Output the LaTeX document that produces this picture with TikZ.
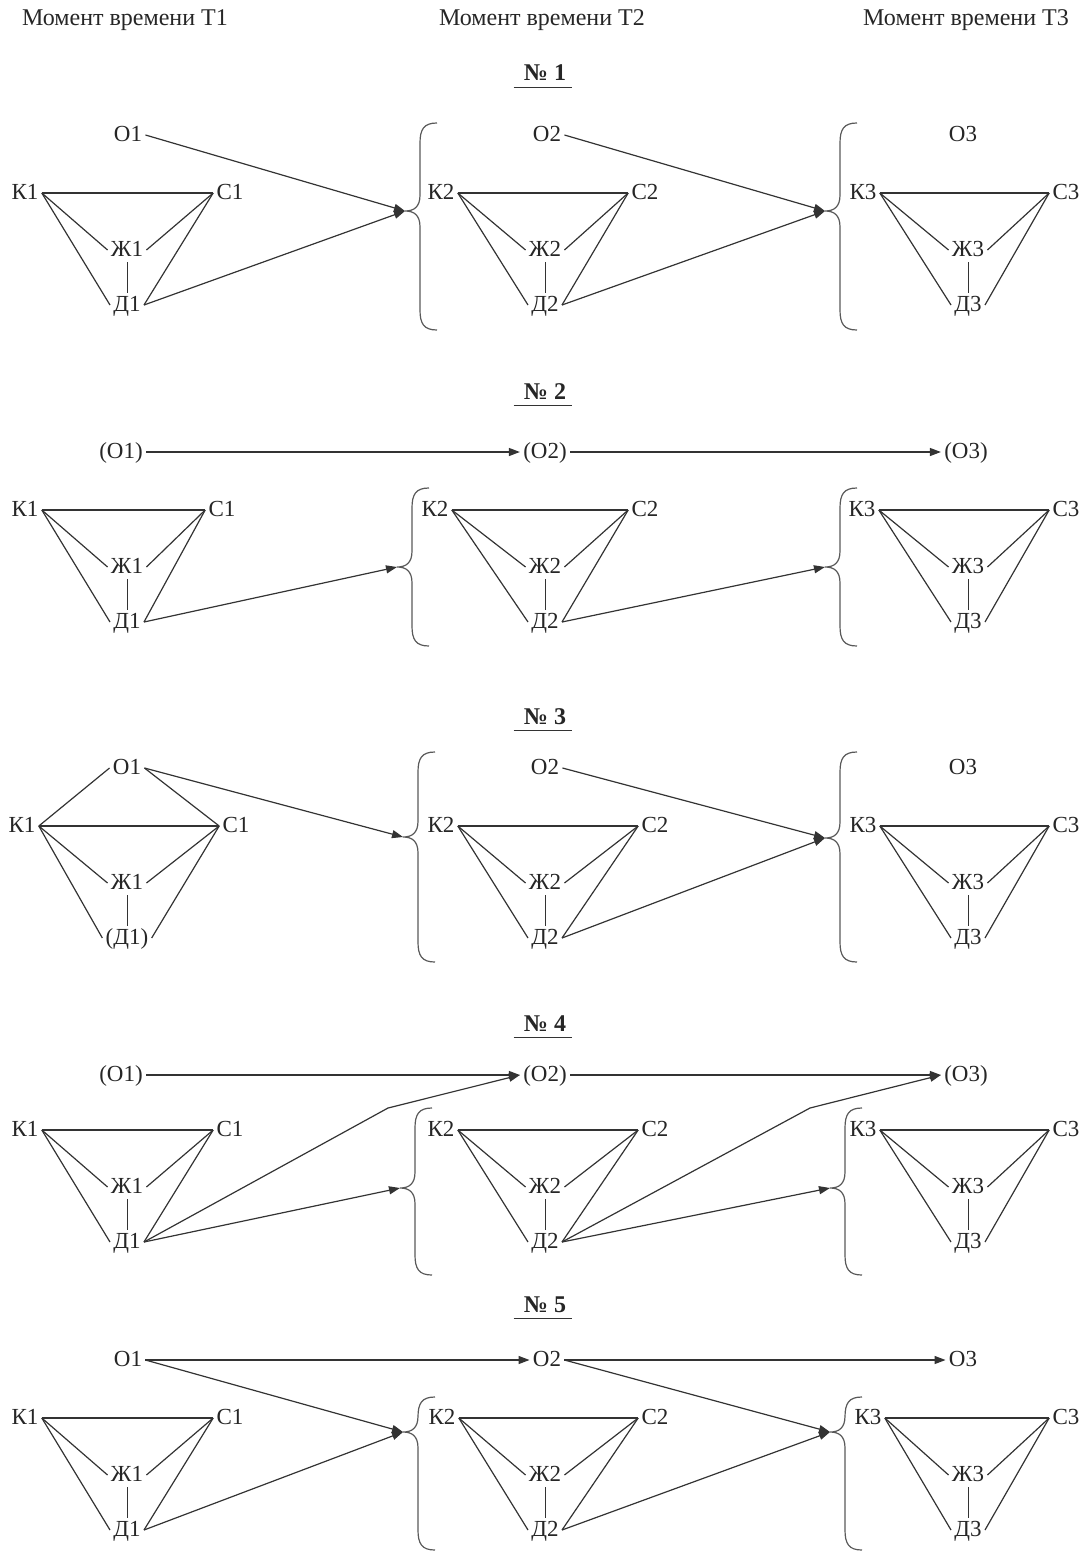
\documentclass[tikz,border=0pt]{standalone}
\usepackage{fontspec}
\setmainfont{Liberation Serif}
\usetikzlibrary{arrows.meta}
\tikzset{
  lbl/.style={font=\fontsize{11.5}{13}\selectfont, inner sep=1.5pt, text height=7.8pt, text depth=1pt, text=black!85},
  hdr/.style={font=\fontsize{12}{14}\selectfont, inner sep=1pt, text=black!85},
  ttl/.style={font=\fontsize{12}{14}\selectfont\bfseries, inner sep=1pt, text height=8pt, text depth=2pt, text=black!85},
  ln/.style={draw=black!80, line width=0.6pt},
  br/.style={draw=black!65, line width=0.6pt},
  arr/.style={ln, -{Triangle[length=5.5pt,width=4pt]}},
}
\newcommand{\triad}[7]{%
  \node[lbl] (#1K) at (#3,#6) {К#2};
  \node[lbl] (#1C) at (#4,#6) {С#2};
  \node[lbl] (#1Z) at (#5,#6+57) {Ж#2};
  \node[lbl] (#1D) at (#5,#6+112) {#7};
  \draw[ln] (#1K.east) -- (#1C.west);
  \draw[ln] (#1K.east) -- (#1Z.west);
  \draw[ln] (#1K.east) -- (#1D.west);
  \draw[ln] (#1C.west) -- (#1Z.east);
  \draw[ln] (#1C.west) -- (#1D.east);
  \draw[ln, line width=0.5pt] (#1Z.south) -- (#1D.north);
}
\newcommand{\cbrace}[5]{%
  \coordinate (#1) at (#2-15,#4);
  \draw[br] (#2+17,#3) .. controls (#2+4,#3) and (#2,#3+6) .. (#2,#3+20)
    -- (#2,#4-16) .. controls (#2,#4-4) and (#2-6,#4) .. (#1)
    .. controls (#2-6,#4) and (#2,#4+4) .. (#2,#4+16)
    -- (#2,#5-20) .. controls (#2,#5-6) and (#2+4,#5) .. (#2+17,#5);
}
\newcommand{\ttlnode}[4]{%
  \node[ttl] (#1) at (#2,#3) {#4};
  \draw[ln] ([xshift=-4pt]#1.south west) -- ([xshift=2pt]#1.south east);
}
\begin{document}
\begin{tikzpicture}[x=0.5pt,y=-0.5pt]
\useasboundingbox (0,0) rectangle (1090,1552);
% headers
\node[hdr] (h1) at (125,20) {Момент времени Т1};
\node[hdr] (h2) at (542,20) {Момент времени Т2};
\node[hdr] (h3) at (966,20) {Момент времени Т3};

% ===== Panel 1 =====
\ttlnode{t1}{545}{75}{№ 1}
\node[lbl] (aO1) at (128,135) {О1};
\node[lbl] (aO2) at (547,135) {О2};
\node[lbl] (aO3) at (963,135) {О3};
\triad{a1}{1}{25}{230}{127}{193}{Д1}
\triad{a2}{2}{441}{645}{545}{193}{Д2}
\triad{a3}{3}{863}{1066}{968}{193}{Д3}
\cbrace{ab1}{420}{123}{211}{330}
\cbrace{ab2}{840}{123}{211}{330}
\draw[arr] (aO1.east) -- (ab1);
\draw[arr] (a1D.east) -- (ab1);
\draw[arr] (aO2.east) -- (ab2);
\draw[arr] (a2D.east) -- (ab2);

% ===== Panel 2 =====
\ttlnode{t2}{545}{393}{№ 2}
\node[lbl] (bO1) at (121,452) {(О1)};
\node[lbl] (bO2) at (545,452) {(О2)};
\node[lbl] (bO3) at (966,452) {(О3)};
\triad{b1}{1}{25}{222}{127}{510}{Д1}
\triad{b2}{2}{435}{645}{545}{510}{Д2}
\triad{b3}{3}{862}{1066}{968}{510}{Д3}
\cbrace{bb1}{412}{488}{567}{646}
\cbrace{bb2}{840}{488}{567}{646}
\draw[arr] (bO1.east) -- (bO2.west);
\draw[arr] (bO2.east) -- (bO3.west);
\draw[arr] (b1D.east) -- (bb1);
\draw[arr] (b2D.east) -- (bb2);

% ===== Panel 3 =====
\ttlnode{t3}{545}{718}{№ 3}
\node[lbl] (cO1) at (127,768) {О1};
\node[lbl] (cO2) at (545,768) {О2};
\node[lbl] (cO3) at (963,768) {О3};
\triad{c1}{1}{22}{236}{127}{826}{(Д1)}
\triad{c2}{2}{441}{655}{545}{826}{Д2}
\triad{c3}{3}{863}{1066}{968}{826}{Д3}
\draw[ln] (c1K.east) -- (cO1.west);
\draw[ln] (cO1.east) -- (c1C.west);
\cbrace{cb1}{418}{752}{837}{962}
\cbrace{cb2}{840}{752}{838}{962}
\draw[arr] (cO1.east) -- (cb1);
\draw[arr] (cO2.east) -- (cb2);
\draw[arr] (c2D.east) -- (cb2);

% ===== Panel 4 =====
\ttlnode{t4}{545}{1025}{№ 4}
\node[lbl] (dO1) at (121,1075) {(О1)};
\node[lbl] (dO2) at (545,1075) {(О2)};
\node[lbl] (dO3) at (966,1075) {(О3)};
\triad{d1}{1}{25}{230}{127}{1130}{Д1}
\triad{d2}{2}{441}{655}{545}{1130}{Д2}
\triad{d3}{3}{863}{1066}{968}{1130}{Д3}
\cbrace{db1}{415}{1108}{1188}{1275}
\cbrace{db2}{845}{1108}{1188}{1275}
\coordinate (dk1) at (388,1108);
\coordinate (dk2) at (810,1108);
\draw[arr] (dO1.east) -- (dO2.west);
\draw[arr] (dO2.east) -- (dO3.west);
\draw[arr] (d1D.east) -- (db1);
\draw[arr] (d1D.east) -- (dk1) -- (dO2.west);
\draw[arr] (d2D.east) -- (db2);
\draw[arr] (d2D.east) -- (dk2) -- (dO3.west);

% ===== Panel 5 =====
\ttlnode{t5}{545}{1306}{№ 5}
\node[lbl] (eO1) at (128,1360) {О1};
\node[lbl] (eO2) at (547,1360) {О2};
\node[lbl] (eO3) at (963,1360) {О3};
\triad{e1}{1}{25}{230}{127}{1418}{Д1}
\triad{e2}{2}{442}{655}{545}{1418}{Д2}
\triad{e3}{3}{868}{1066}{968}{1418}{Д3}
\cbrace{eb1}{418}{1397}{1432}{1550}
\cbrace{eb2}{845}{1397}{1432}{1550}
\draw[arr] (eO1.east) -- (eO2.west);
\draw[arr] (eO2.east) -- (eO3.west);
\draw[arr] (eO1.east) -- (eb1);
\draw[arr] (e1D.east) -- (eb1);
\draw[arr] (eO2.east) -- (eb2);
\draw[arr] (e2D.east) -- (eb2);
\end{tikzpicture}
\end{document}
